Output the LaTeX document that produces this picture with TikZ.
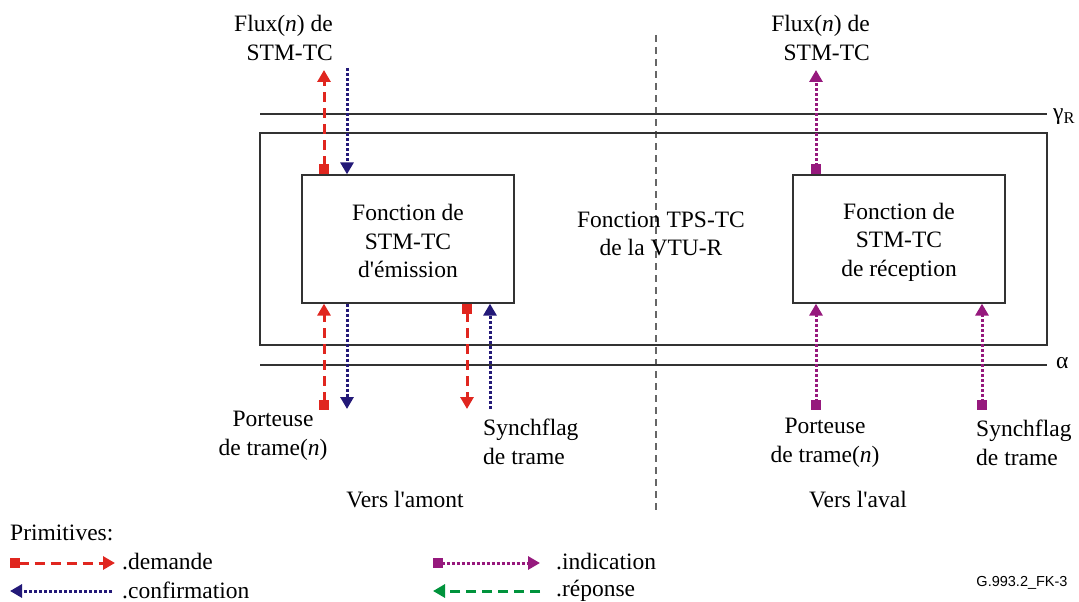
\documentclass[tikz,border=0pt]{standalone}
\usepackage{fontspec}
\setmainfont{Liberation Serif}
\newfontfamily\figsans{Liberation Sans}
\usetikzlibrary{arrows.meta}
\definecolor{myred}{RGB}{224,38,31}
\definecolor{myblue}{RGB}{35,25,120}
\definecolor{mypurple}{RGB}{150,25,125}
\definecolor{mygreen}{RGB}{0,147,60}
\definecolor{frame}{RGB}{50,50,50}
\tikzset{
  every node/.style={font=\fontsize{23.5}{28.5}\selectfont, inner sep=0pt},
  fbox/.style={draw=frame, line width=1.3pt, minimum width=212pt, minimum height=128pt},
  refline/.style={draw=frame, line width=1.3pt},
  req/.style={draw=myred, line width=3pt, dash pattern=on 10pt off 6pt},
  conf/.style={draw=myblue, line width=3pt, dash pattern=on 3pt off 2pt},
  ind/.style={draw=mypurple, line width=3pt, dash pattern=on 3pt off 2pt},
  resp/.style={draw=mygreen, line width=3pt, dash pattern=on 10pt off 6pt},
  tri/.style={arrows={-Triangle[length=12pt,width=13pt]}},
  sqtri/.style={arrows={Square[length=10pt,width=10pt]-Triangle[length=12pt,width=13pt]}},
}
\begin{document}
\begin{tikzpicture}[x=1pt,y=-1pt]
\useasboundingbox (0,0) rectangle (1079,602);

% center dashed separator
\coordinate (sepT) at (656,35);
\coordinate (sepB) at (656,510);
\draw[draw=gray!80!black, line width=1.2pt, dash pattern=on 7pt off 5pt] (sepT) -- (sepB);

% reference lines
\coordinate (gL) at (260,114);
\coordinate (gR) at (1047,114);
\coordinate (aL) at (260,365);
\coordinate (aR) at (1047,365);
\draw[refline] (gL) -- (gR);
\draw[refline] (aL) -- (aR);
\node[anchor=west] (gamma) at (1053,117) {γ\textsubscript{R}};
\node[anchor=west] (alpha) at (1056,363) {α};

% outer TPS-TC function
\node[draw=frame, line width=1.3pt, minimum width=787pt, minimum height=212pt] (tps) at (653.5,239) {};
\node[align=center] (tpslabel) at (661,234) {Fonction TPS-TC\\de la VTU-R};

% inner boxes
\node[fbox] (tx) at (408,239) {};
\node[fbox] (rx) at (899,239) {};
\node[align=center] (txlabel) at (408,241) {Fonction de\\STM-TC\\d\textquotesingle émission};
\node[align=center] (rxlabel) at (899,242) {Fonction de\\STM-TC\\de réception};

% free ends
\coordinate (t1) at (324,70);
\coordinate (t2) at (347,68);
\coordinate (b1) at (324,410);
\coordinate (b2) at (347,409);
\coordinate (b3) at (467,409);
\coordinate (b4) at (490,409);
\coordinate (t5) at (816,70);
\coordinate (b5) at (816,410);
\coordinate (b6) at (982,410);

% upstream arrows
\draw[req, sqtri] (tx.north -| t1) -- (t1);
\draw[conf, tri] (t2) -- (tx.north -| t2);
\draw[req, sqtri] (b1) -- (tx.south -| b1);
\draw[conf, tri] (tx.south -| b2) -- (b2);
\draw[req, sqtri] (tx.south -| b3) -- (b3);
\draw[conf, tri] (b4) -- (tx.south -| b4);

% downstream arrows
\draw[ind, sqtri] (rx.north -| t5) -- (t5);
\draw[ind, sqtri] (b5) -- (rx.south -| b5);
\draw[ind, sqtri] (b6) -- (rx.south -| b6);

% labels
\node[anchor=east, align=right] (fluxL) at (333,38) {Flux(\textit{n}) de\\STM-TC};
\node[anchor=east, align=right] (fluxR) at (870,38) {Flux(\textit{n}) de\\STM-TC};
\node[align=center] (portL) at (273,436) {Porteuse\\de trame(\textit{n})};
\node[anchor=west, align=left] (syncL) at (483,442) {Synchflag\\de trame};
\node[align=center] (portR) at (825,443) {Porteuse\\de trame(\textit{n})};
\node[anchor=west, align=left] (syncR) at (976,443) {Synchflag\\de trame};
\node (amont) at (405,500) {Vers l\textquotesingle amont};
\node (aval) at (858,500) {Vers l\textquotesingle aval};

% legend
\node[anchor=west] (prim) at (10,533) {Primitives:};
\coordinate (l1a) at (10,563);
\coordinate (l1b) at (115,563);
\coordinate (l2a) at (10,591);
\coordinate (l2b) at (112,591);
\coordinate (l3a) at (433,563);
\coordinate (l3b) at (540,563);
\coordinate (l4a) at (433,591);
\coordinate (l4b) at (540,591);
\draw[req, sqtri] (l1a) -- (l1b);
\draw[conf, tri] (l2b) -- (l2a);
\draw[ind, sqtri] (l3a) -- (l3b);
\draw[resp, tri] (l4b) -- (l4a);
\node[anchor=west] (dem) at (122,562) {.demande};
\node[anchor=west] (conf) at (122,590) {.confirmation};
\node[anchor=west] (indi) at (556,562) {.indication};
\node[anchor=west] (rep) at (556,591) {.réponse};
\node[font=\figsans\fontsize{14.5}{17}\selectfont] (code) at (1022,583) {G.993.2\_FK-3};
\end{tikzpicture}
\end{document}
